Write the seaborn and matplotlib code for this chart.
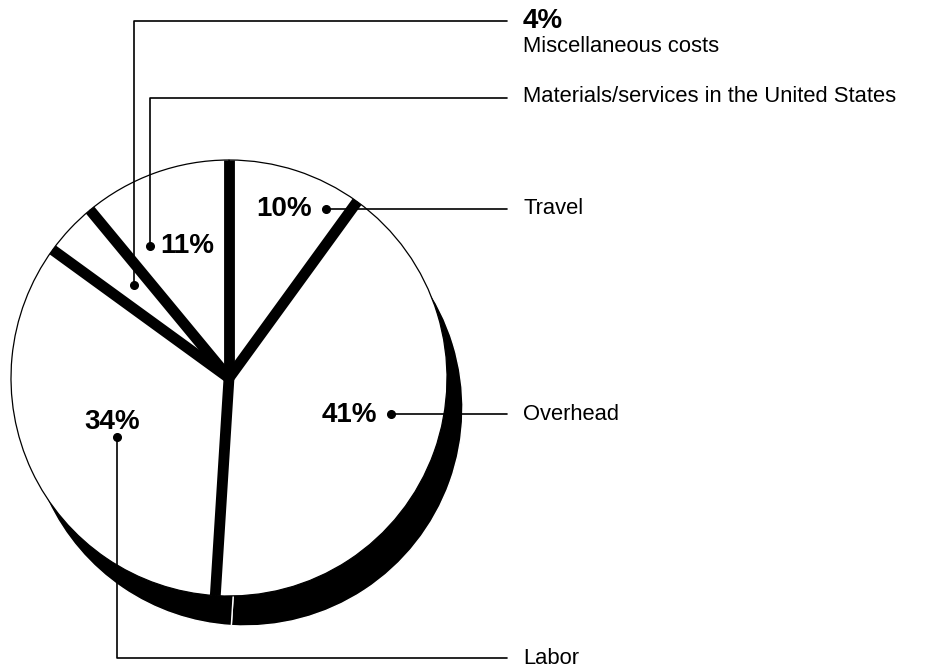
import matplotlib

matplotlib.use("Agg")

import matplotlib.pyplot as plt
import numpy as np
import seaborn as sns

# slices, clockwise from 12 o'clock
categories = ["Travel", "Overhead", "Labor", "Miscellaneous costs",
              "Materials/services in the United States"]
shares = [10, 41, 34, 4, 11]
pct_labels = [f"{v}%" for v in shares]

W, H = 944, 669


def py(y):
    # pixel row -> data y (axis runs upward)
    return H - y


sns.set_theme(style="white")
plt.rcParams["font.family"] = ["Liberation Sans", "DejaVu Sans"]
plt.rcParams["text.color"] = "black"

fig = plt.figure(figsize=(W / 100, H / 100), dpi=100)
ax = fig.add_axes([0, 0, 1, 1])

cx, cy, r = 229, py(378), 218
shadow_dx, shadow_dy = 16, -30

# black extruded shadow
ax.pie(shares, startangle=90, counterclock=False, colors=["black"] * len(shares),
       center=(cx + shadow_dx, cy + shadow_dy), radius=r,
       wedgeprops=dict(edgecolor="white", linewidth=1.0))
# white face
ax.pie(shares, startangle=90, counterclock=False, colors=["white"] * len(shares),
       center=(cx, cy), radius=r,
       wedgeprops=dict(edgecolor="black", linewidth=0.9))

# black side walls along slice boundaries
bounds = 90 - 3.6 * np.cumsum([0] + shares[:-1])
for ang in np.deg2rad(bounds):
    ax.plot([cx, cx + r * np.cos(ang)], [cy, cy + r * np.sin(ang)],
            color="black", lw=7.8, solid_capstyle="butt", zorder=5)

line_kw = dict(color="black", lw=1.2, zorder=6)
dot_kw = dict(marker="o", ms=5.5, color="black", zorder=7, ls="none")
x_end, x_text = 507, 523
pct_font = dict(fontsize=20, fontweight="bold", va="center", zorder=8)
name_font = dict(fontsize=15.8, va="center", ha="left", zorder=8)

# Travel
ax.plot([326, x_end], [py(209), py(209)], **line_kw)
ax.plot([326], [py(209)], **dot_kw)
ax.text(312, py(209), pct_labels[0], ha="right", **pct_font)
ax.text(x_text, py(209), categories[0], **name_font)

# Overhead
ax.plot([391, x_end], [py(414), py(414)], **line_kw)
ax.plot([391], [py(414)], **dot_kw)
ax.text(377, py(415), pct_labels[1], ha="right", **pct_font)
ax.text(x_text, py(414), categories[1], **name_font)

# Labor
ax.plot([117, 117, x_end], [py(437), py(658), py(658)], **line_kw)
ax.plot([117], [py(437)], **dot_kw)
ax.text(112, py(422), pct_labels[2], ha="center", **pct_font)
ax.text(x_text, py(658), categories[2], **name_font)

# Miscellaneous
ax.plot([134, 134, x_end], [py(285), py(21), py(21)], **line_kw)
ax.plot([134], [py(285)], **dot_kw)
ax.text(x_text, py(21), pct_labels[3], ha="left", **pct_font)
ax.text(x_text, py(46), categories[3], **name_font)

# Materials/services
ax.plot([150, 150, x_end], [py(246), py(98), py(98)], **line_kw)
ax.plot([150], [py(246)], **dot_kw)
ax.text(160, py(246), pct_labels[4], ha="left", **pct_font)
ax.text(x_text, py(97), categories[4], **name_font)

ax.set_xlim(0, W)
ax.set_ylim(0, H)
ax.set_aspect("equal")
ax.axis("off")

fig.savefig("out.png", dpi=100, facecolor="white")
